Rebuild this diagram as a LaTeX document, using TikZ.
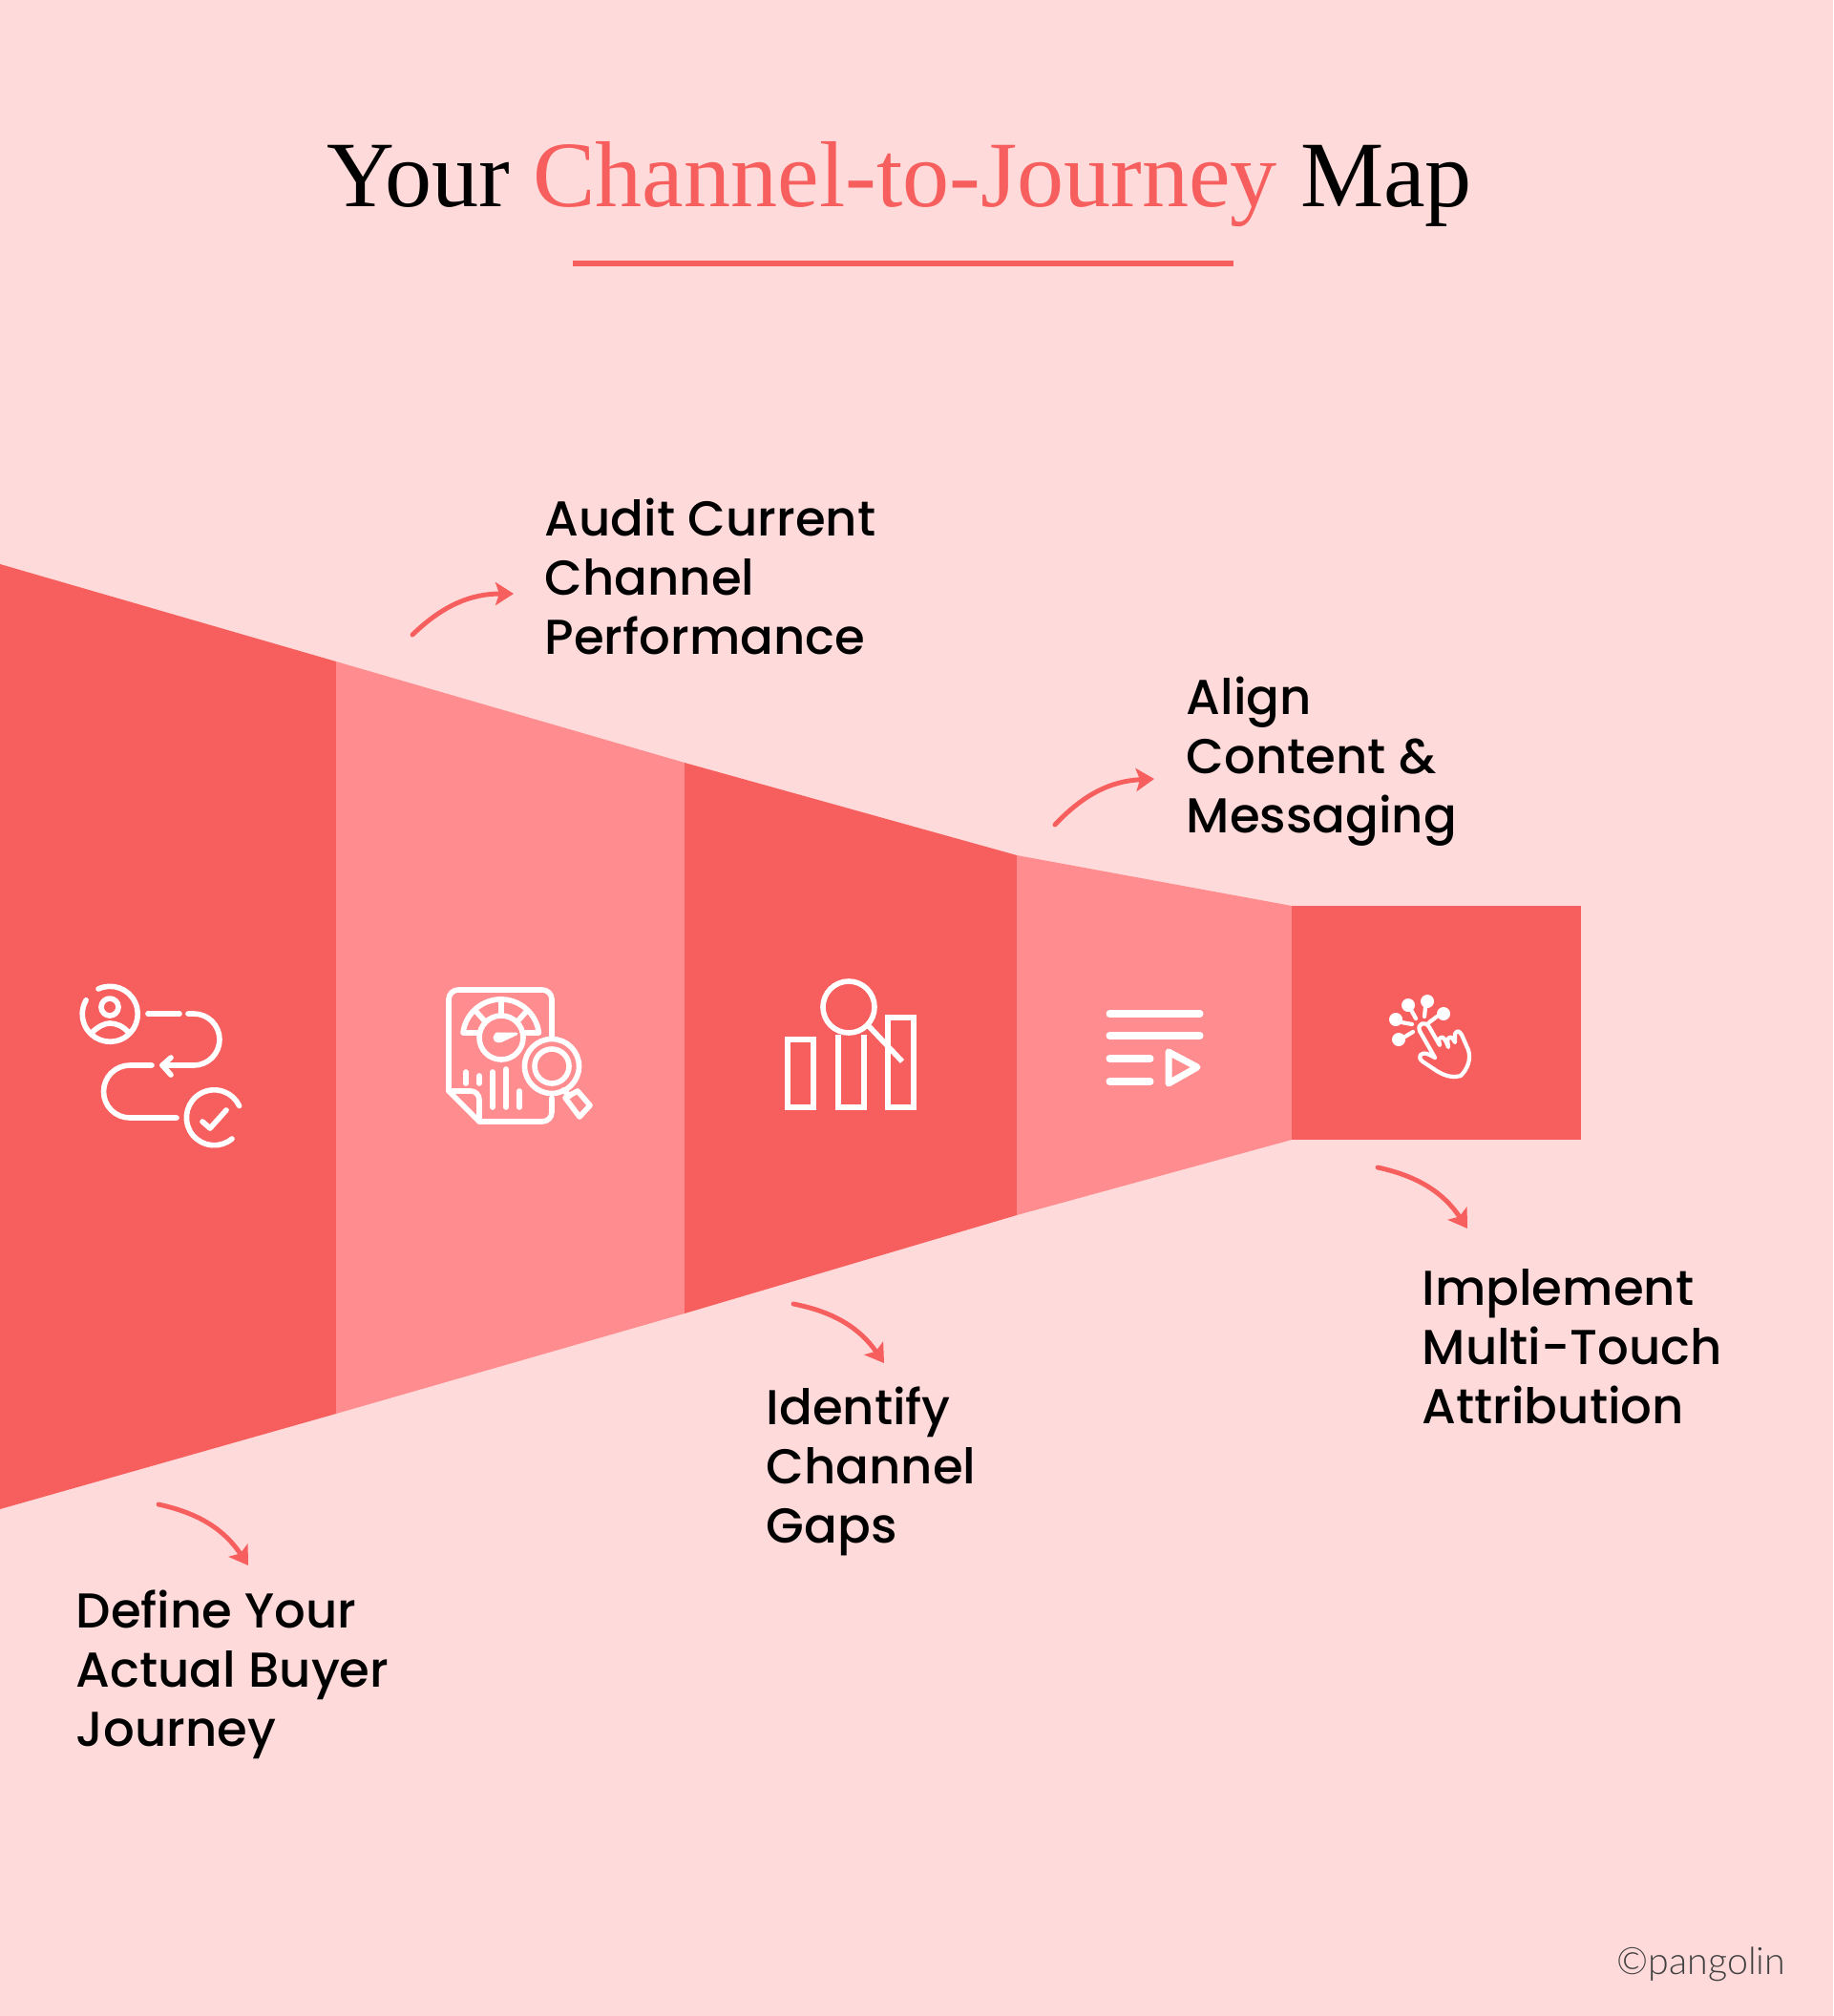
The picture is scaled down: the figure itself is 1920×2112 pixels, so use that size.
\documentclass[tikz,border=0pt]{standalone}
\usepackage{fontspec}
\usetikzlibrary{arrows.meta,calc}
\setmainfont{Liberation Serif}
\newfontfamily\handfont{Poppins Medium}
\newfontfamily\creditfont{Lato Light}
\definecolor{bgpink}{HTML}{FFDADA}
\definecolor{darkcoral}{HTML}{F65F5E}
\definecolor{lightcoral}{HTML}{FF8C8F}
\tikzset{
  steptext/.style={anchor=west,inner sep=0pt,align=left,text=black,font=\handfont\fontsize{14.6}{17.6}\selectfont},
  pointer/.style={-{Stealth[length=1.9mm,width=2.4mm,inset=0.4mm]},draw=darkcoral,line width=1.4pt,line cap=round},
  icon/.style={draw=white,line width=1.6pt,line cap=round,line join=round},
  thinicon/.style={icon,line width=1.2pt}
}
\begin{document}
\begin{tikzpicture}[x=0.01cm,y=-0.01cm]
  \fill[bgpink] (0,0) rectangle (1920,2112);

  \node[anchor=base,inner sep=0pt,font=\fontsize{27.9}{30}\selectfont] (Title) at (942,216) {Your \textcolor{darkcoral}{Channel-to-Journey} Map};
  \coordinate (RuleLeft) at (600,276);
  \coordinate (RuleRight) at (1292,276);
  \draw[draw=darkcoral,line width=1.7pt] (RuleLeft) -- (RuleRight);

  \fill[darkcoral] (0,591) -- (352,693) -- (352,1481) -- (0,1581) -- cycle;
  \fill[lightcoral] (352,693) -- (717,799) -- (717,1376) -- (352,1481) -- cycle;
  \fill[darkcoral] (717,799) -- (1065,896) -- (1065,1273) -- (717,1376) -- cycle;
  \fill[lightcoral] (1065,896) -- (1353,949) -- (1353,1194) -- (1065,1273) -- cycle;
  \fill[darkcoral] (1353,949) rectangle (1656,1194);

  \node[steptext] (Define) at (79,1754) {Define Your\\Actual Buyer\\Journey};
  \node[steptext] (Audit) at (570,604) {Audit Current\\Channel\\Performance};
  \node[steptext] (Identify) at (802,1541) {Identify\\Channel\\Gaps};
  \node[steptext] (Align) at (1242,798) {Align\\Content \&\\Messaging};
  \node[steptext] (Implement) at (1489,1411) {Implement\\Multi-Touch\\Attribution};

  \coordinate (DefineFrom) at (166,1576);
  \coordinate (DefineTo) at (260,1640);
  \coordinate (AuditFrom) at (432,665);
  \coordinate (AuditTo) at (538,622);
  \coordinate (IdentifyFrom) at (831,1366);
  \coordinate (IdentifyTo) at (926,1428);
  \coordinate (AlignFrom) at (1105,864);
  \coordinate (AlignTo) at (1209,816);
  \coordinate (ImplementFrom) at (1443,1223);
  \coordinate (ImplementTo) at (1537,1287);
  \draw[pointer,bend left=22] (DefineFrom) to (DefineTo);
  \draw[pointer,bend left=22] (AuditFrom) to (AuditTo);
  \draw[pointer,bend left=22] (IdentifyFrom) to (IdentifyTo);
  \draw[pointer,bend left=22] (AlignFrom) to (AlignTo);
  \draw[pointer,bend left=22] (ImplementFrom) to (ImplementTo);

  % journey icon
  \draw[icon] (103,1036) arc (-115:210:29);
  \draw[icon] (115,1055) circle (9);
  \draw[icon] (96,1082) .. controls (103,1075) and (110,1072) .. (115,1072) .. controls (122,1072) and (129,1075) .. (135,1082);
  \draw[icon] (155,1062) -- (188,1062);
  \draw[icon] (197,1062) -- (203,1062) arc (-90:90:27) -- (170,1116);
  \draw[icon] (179,1108) -- (170,1116) -- (179,1126);
  \draw[icon] (159,1116) -- (136,1116) arc (-90:-270:27.5) -- (185,1171);
  \draw[icon] (243,1193) arc (50:335:29);
  \draw[icon] (212,1175) -- (220,1182) -- (237,1163);

  % report icon
  \draw[icon] (578,1087) -- (578,1047) arc (0:-90:10) -- (480,1037) arc (-90:-180:10) -- (470,1143) -- (502,1175) -- (568,1175) arc (90:0:10) -- (578,1150);
  \draw[icon] (470,1143) -- (493,1143) arc (-90:0:9) -- (502,1175);
  \draw[icon] (525,1087) circle (23);
  \draw[icon] (500,1082) -- (485,1082) arc (-173:-7:40) -- (550,1082);
  \draw[icon] (499,1060) -- (508,1070);
  \draw[icon] (525,1048) -- (525,1064);
  \draw[icon] (551,1060) -- (542,1070);
  \filldraw[icon,line width=0.8pt,fill=white] (522,1087) circle (4);
  \filldraw[icon,line width=0.8pt,fill=white] (520,1083) -- (541,1083) -- (524,1091) -- cycle;
  \foreach \barx/\bartop/\barend in {488/1123/1135,502/1127/1135,516/1123/1160,530/1120/1160,544/1143/1160}
    \draw[icon] (\barx,\bartop) -- (\barx,\barend);
  \draw[icon] (578,1117) circle (28.5);
  \draw[icon] (578,1117) circle (18);
  \draw[icon] (590,1142) -- (597,1148);
  \draw[icon] (592,1150) -- (605,1143) -- (618,1158) -- (607,1170) -- cycle;

  % gaps icon
  \draw[icon,line cap=butt,line join=miter] (825,1089) rectangle (852,1160);
  \draw[icon,line cap=butt,line join=miter] (878,1084) -- (878,1160) -- (905,1160) -- (905,1084);
  \draw[icon,line cap=butt,line join=miter] (930,1066) rectangle (957,1160);
  \draw[icon,line cap=butt] (889,1055) circle (27);
  \draw[icon,line cap=butt] (910,1075) -- (945,1112);

  % content icon
  \draw[icon,line width=2pt] (1162,1062) -- (1257,1062);
  \draw[icon,line width=2pt] (1162,1085) -- (1257,1085);
  \draw[icon,line width=2pt] (1162,1109) -- (1205,1109);
  \draw[icon,line width=2pt] (1162,1133) -- (1205,1133);
  \draw[icon,line width=2pt] (1224,1102) -- (1224,1135) -- (1254,1118) -- cycle;

  % touch icon
  \foreach \dotx/\doty in {1475/1053,1495/1049,1512/1062,1462/1068,1465/1089}
    \fill[white] (\dotx,\doty) circle (7);
  \draw[thinicon] (1478,1058) -- (1483,1067);
  \draw[thinicon] (1493,1055) -- (1492,1065);
  \draw[thinicon] (1505,1065) -- (1497,1071);
  \draw[thinicon] (1468,1071) -- (1479,1073);
  \draw[thinicon] (1470,1087) -- (1480,1081);
  \draw[thinicon] (1503,1108) -- (1487,1080) .. controls (1484,1072) and (1493,1069) .. (1497,1076) -- (1508,1095) -- (1507,1089) .. controls (1510,1085) and (1512,1086) .. (1515,1092) -- (1517,1097) -- (1516,1089) .. controls (1519,1085) and (1521,1086) .. (1524,1092) -- (1524,1083) .. controls (1527,1079) and (1528,1080) .. (1531,1084) -- (1538,1100) .. controls (1541,1110) and (1537,1120) .. (1530,1127) .. controls (1522,1129) and (1515,1128) .. (1505,1122) -- (1490,1112) .. controls (1484,1107) and (1488,1102) .. (1495,1104) -- (1503,1108);

  \node[anchor=base east,inner sep=0pt,text=black!75,font=\creditfont\fontsize{11.2}{12}\selectfont] (Credit) at (1871,2068) {©pangolin};
\end{tikzpicture}
\end{document}
